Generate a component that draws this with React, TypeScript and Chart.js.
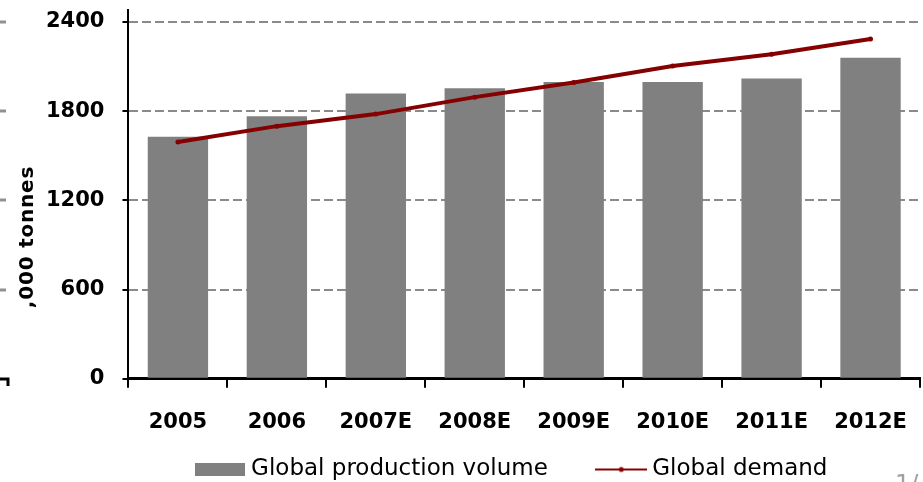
import React, { useEffect, useRef } from "react";
import { Chart, registerables } from "chart.js";

Chart.register(...registerables);

const categories = ["2005", "2006", "2007E", "2008E", "2009E", "2010E", "2011E", "2012E"];
const productionVolume = [1627, 1766, 1919, 1953, 1996, 1996, 2020, 2159];
const globalDemand = [1593, 1699, 1780, 1894, 1993, 2103, 2182, 2285];
const yTicks = [0, 600, 1200, 1800, 2400];
const yTitle = ",000 tonnes";
const legendLabels = ["Global production volume", "Global demand"];

const BAR_COLOR = "#808080";
const LINE_COLOR = "#850000";

function makeBarSwatch(): HTMLCanvasElement {
  const c = document.createElement("canvas");
  c.width = 50;
  c.height = 13;
  const g = c.getContext("2d")!;
  g.fillStyle = BAR_COLOR;
  g.fillRect(0, 0, 50, 13);
  return c;
}

function makeLineSwatch(): HTMLCanvasElement {
  const c = document.createElement("canvas");
  c.width = 52;
  c.height = 8;
  const g = c.getContext("2d")!;
  g.strokeStyle = LINE_COLOR;
  g.lineWidth = 2;
  g.beginPath();
  g.moveTo(0, 4);
  g.lineTo(52, 4);
  g.stroke();
  g.fillStyle = LINE_COLOR;
  g.beginPath();
  g.arc(26, 4, 2.5, 0, Math.PI * 2);
  g.fill();
  return c;
}

const legendShiftPlugin = {
  id: "legendShift",
  afterLayout(chart: any) {
    const lg = chart.legend;
    if (!lg) return;
    const dx = 40;
    const dy = -53;
    lg.left += dx;
    lg.right += dx;
    lg.top += dy;
    lg.bottom += dy;
  },
};

const decorPlugin = {
  id: "decor",
  afterDraw(chart: any) {
    const { ctx, chartArea, scales } = chart;
    const y = scales.y;
    ctx.save();
    // y-axis title
    ctx.translate(28, chartArea.top + 227);
    ctx.rotate(-Math.PI / 2);
    ctx.font = "bold 20px 'DejaVu Sans'";
    try {
      (ctx as any).letterSpacing = "0.8px";
    } catch (e) {}
    ctx.fillStyle = "#000";
    ctx.textAlign = "center";
    ctx.textBaseline = "middle";
    ctx.fillText(yTitle, 0, 0);
    ctx.restore();

    // cropped neighbour artefacts at left edge
    ctx.save();
    ctx.strokeStyle = "#909090";
    ctx.lineWidth = 3;
    for (const t of yTicks.slice(1)) {
      const py = Math.round(y.getPixelForValue(t));
      ctx.beginPath();
      ctx.moveTo(0, py);
      ctx.lineTo(6, py);
      ctx.stroke();
    }
    const p0 = Math.round(y.getPixelForValue(0));
    ctx.strokeStyle = "#000";
    ctx.lineWidth = 3;
    ctx.beginPath();
    ctx.moveTo(0, p0);
    ctx.lineTo(8, p0);
    ctx.lineTo(8, p0 + 7);
    ctx.stroke();
    ctx.restore();

    // cropped page number at bottom right
    ctx.save();
    ctx.font = "24px 'DejaVu Sans'";
    ctx.fillStyle = "#a0a0a0";
    ctx.textBaseline = "alphabetic";
    ctx.fillText("1/", 895, 492);
    ctx.restore();
  },
};

export default function App() {
  const ref = useRef<HTMLCanvasElement | null>(null);

  useEffect(() => {
    document.body.style.margin = "0";
    const canvas = ref.current!;
    const barSwatch = makeBarSwatch();
    const lineSwatch = makeLineSwatch();
    const chart = new Chart(canvas, {
      type: "bar",
      data: {
        labels: categories,
        datasets: [
          {
            type: "line",
            label: legendLabels[1],
            data: globalDemand,
            borderColor: LINE_COLOR,
            backgroundColor: LINE_COLOR,
            borderWidth: 4,
            pointRadius: 2.5,
            pointBorderWidth: 0,
            pointBackgroundColor: LINE_COLOR,
            tension: 0,
            order: 0,
          } as any,
          {
            type: "bar",
            label: legendLabels[0],
            data: productionVolume,
            backgroundColor: BAR_COLOR,
            borderWidth: 0,
            categoryPercentage: 1,
            barPercentage: 0.61,
            order: 1,
          },
        ],
      },
      options: {
        animation: false,
        responsive: false,
        maintainAspectRatio: false,
        layout: { autoPadding: false, padding: { left: 28, right: 3, top: 10, bottom: -62 } },
        plugins: {
          tooltip: { enabled: false },
          legend: {
            position: "bottom",
            labels: {
              usePointStyle: true,
              pointStyleWidth: 39,
              boxHeight: 13,
              padding: 54,
              color: "#000",
              font: { family: "'DejaVu Sans'", size: 23 },
              generateLabels: () => [
                {
                  text: legendLabels[0],
                  pointStyle: barSwatch,
                  fillStyle: BAR_COLOR,
                  strokeStyle: BAR_COLOR,
                  lineWidth: 0,
                  hidden: false,
                  datasetIndex: 1,
                },
                {
                  text: legendLabels[1],
                  pointStyle: lineSwatch,
                  fillStyle: LINE_COLOR,
                  strokeStyle: LINE_COLOR,
                  lineWidth: 0,
                  hidden: false,
                  datasetIndex: 0,
                },
              ],
            },
          },
        },
        scales: {
          x: {
            grid: {
              offset: true,
              drawOnChartArea: false,
              drawTicks: true,
              tickLength: 9,
              color: "#000",
              tickColor: "#000",
              tickWidth: 2,
              lineWidth: 2,
            },
            border: { display: true, color: "#000", width: 3 },
            ticks: {
              color: "#000",
              padding: 22,
              maxRotation: 0,
              autoSkip: false,
              font: { family: "'DejaVu Sans'", size: 21, weight: "bold" },
            },
            afterFit: (scale: any) => {
              scale.paddingLeft = 0;
              scale.paddingRight = 0;
            },
          },
          y: {
            min: 0,
            max: 2480,
            afterBuildTicks: (scale: any) => {
              scale.ticks = yTicks.map((v) => ({ value: v }));
            },
            afterFit: (scale: any) => {
              scale.paddingTop = 0;
              scale.paddingBottom = 0;
            },
            grid: {
              color: "#8a8a8a",
              lineWidth: 2,
              tickColor: "#000",
              tickLength: 6,
              tickWidth: 2,
              tickBorderDash: [],
            },
            border: { display: true, color: "#000", width: 2, dash: [9, 4] },
            ticks: {
              color: "#000",
              padding: 18,
              callback: (v: any) => String(v),
              font: { family: "'DejaVu Sans'", size: 21, weight: "bold" },
            },
          },
        },
      },
      plugins: [legendShiftPlugin, decorPlugin],
    });
    return () => chart.destroy();
  }, []);

  return (
    <div style={{ width: 923, height: 482 }}>
      <canvas ref={ref} width={923} height={482} style={{ display: "block" }} />
    </div>
  );
}
